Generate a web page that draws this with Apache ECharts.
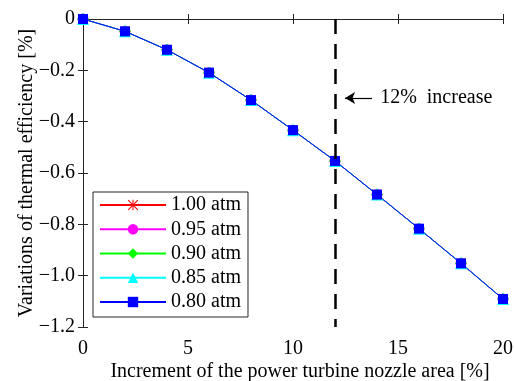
<!DOCTYPE html>
<html>
<head>
<meta charset="utf-8">
<script src="https://cdn.jsdelivr.net/npm/echarts@6/dist/echarts.min.js"></script>
<style>
  html, body { margin: 0; padding: 0; background: #fff; }
  #main { width: 514px; height: 381px; }
</style>
</head>
<body>
<div id="main"></div>
<script>
// nozzle area increment [%]
var areaInc = [0, 2, 4, 6, 8, 10, 12, 14, 16, 18, 20];
// thermal efficiency variation [%] -- all ambient pressures overlap on the plot
var eff100 = [0, -0.048, -0.12, -0.209, -0.316, -0.433, -0.553, -0.684, -0.817, -0.952, -1.091];
var eff095 = [0, -0.048, -0.12, -0.209, -0.316, -0.433, -0.553, -0.684, -0.817, -0.952, -1.091];
var eff090 = [0, -0.048, -0.12, -0.209, -0.316, -0.433, -0.553, -0.684, -0.817, -0.952, -1.091];
var eff085 = [0, -0.048, -0.12, -0.209, -0.316, -0.433, -0.553, -0.684, -0.817, -0.952, -1.091];
var eff080 = [0, -0.048, -0.12, -0.209, -0.316, -0.433, -0.553, -0.684, -0.817, -0.952, -1.091];
var names = ['1.00 atm', '0.95 atm', '0.90 atm', '0.85 atm', '0.80 atm'];
var markX = 12;           // 12% increase
var arrowY = -0.308;
var arrowFrom = 13.76, arrowTo = 12.48, noteX = 14.15;

var FONT = '"Liberation Serif", "Times New Roman", serif';
var AX = '#262626';

// asterisk marker (MATLAB '*')
var asterisk = 'path://M9,0L11,0L11,20L9,20Z M0,9L20,9L20,11L0,11Z M1.4,0L20,18.6L18.6,20L0,1.4Z M18.6,0L20,1.4L1.4,20L0,18.6Z';

function zip(ys) {
    var out = [];
    for (var i = 0; i < areaInc.length; i++) out.push([areaInc[i], ys[i]]);
    return out;
}

function mkSeries(name, ys, color, symbol, size) {
    return {
        name: name,
        type: 'line',
        data: zip(ys),
        symbol: symbol,
        symbolSize: size,
        showAllSymbol: true,
        lineStyle: { color: color, width: 1 },
        itemStyle: { color: color },
        animation: false
    };
}

var series = [
    mkSeries(names[0], eff100, '#ff0000', asterisk, 10),
    mkSeries(names[1], eff095, '#ff00ff', 'circle', 11),
    mkSeries(names[2], eff090, '#00ff00', 'diamond', 12),
    mkSeries(names[3], eff085, '#00ffff', 'triangle', 12),
    mkSeries(names[4], eff080, '#0000ff', 'rect', 10)
];

// dashed marker line + arrow annotation
series.push({
    type: 'line',
    data: [],
    animation: false,
    markLine: {
        silent: true,
        animation: false,
        symbol: ['none', 'none'],
        label: { show: false },
        data: [
            [{ coord: [markX, 0], lineStyle: { color: '#000', width: 2.5, type: [15, 10] } },
             { coord: [markX, -1.2] }],
            [{ coord: [arrowFrom, arrowY], symbol: 'none', lineStyle: { color: '#000', width: 1.2, type: 'solid' } },
             { coord: [arrowTo, arrowY], symbol: 'arrow', symbolSize: [9, 10] }]
        ]
    },
    markPoint: {
        silent: true,
        animation: false,
        symbol: 'circle',
        symbolSize: 0,
        data: [{
            coord: [noteX, arrowY],
            label: {
                show: true, position: 'right', distance: 0,
                formatter: '12%  increase',
                color: '#000', fontFamily: FONT, fontSize: 20
            }
        }]
    }
});

var chart = echarts.init(document.getElementById('main'));
chart.setOption({
    backgroundColor: '#fff',
    animation: false,
    grid: { left: 83, right: 11, top: 19, bottom: 54, containLabel: false, outerBoundsMode: 'none' },
    legend: {
        data: names,
        orient: 'vertical',
        left: 93,
        top: 192,
        padding: [3, 7, 5, 6],
        itemWidth: 66,
        itemHeight: 13,
        itemGap: 4.25,
        borderColor: AX,
        borderWidth: 1,
        backgroundColor: '#fff',
        textStyle: { fontFamily: FONT, fontSize: 20, lineHeight: 20, color: '#000' }
    },
    xAxis: [{
        type: 'value', min: 0, max: 20, interval: 5,
        name: 'Increment of the power turbine nozzle area [%]',
        nameLocation: 'middle', nameGap: 35, nameMoveOverlap: false,
        nameTextStyle: { fontFamily: FONT, fontSize: 20, color: '#000', padding: [0, 0, 0, 14] },
        axisLine: { show: true, lineStyle: { color: AX } },
        axisTick: { show: true, inside: true, length: 5, lineStyle: { color: AX } },
        axisLabel: { fontFamily: FONT, fontSize: 20, color: '#000', margin: 12 },
        splitLine: { show: false }
    }, {
        type: 'value', min: 0, max: 20, interval: 5, position: 'top',
        axisLine: { show: true, lineStyle: { color: AX } },
        axisTick: { show: true, inside: true, length: 5, lineStyle: { color: AX } },
        axisLabel: { show: false },
        splitLine: { show: false }
    }],
    yAxis: [{
        type: 'value', min: -1.2, max: 0, interval: 0.2,
        name: 'Variations of thermal efficiency [%]',
        nameLocation: 'middle', nameGap: 46, nameMoveOverlap: false,
        nameTextStyle: { fontFamily: FONT, fontSize: 20, color: '#000' },
        axisLine: { show: true, lineStyle: { color: AX } },
        axisTick: { show: true, inside: true, length: 5, lineStyle: { color: AX } },
        axisLabel: {
            fontFamily: FONT, fontSize: 20, color: '#000', margin: 8,
            formatter: function (v) {
                if (Math.abs(v) < 1e-9) return '0';
                return '\u2212' + Math.abs(v).toFixed(1);
            }
        },
        splitLine: { show: false }
    }, {
        type: 'value', min: -1.2, max: 0, interval: 0.2, position: 'right',
        axisLine: { show: true, lineStyle: { color: AX } },
        axisTick: { show: true, inside: true, length: 5, lineStyle: { color: AX } },
        axisLabel: { show: false },
        splitLine: { show: false }
    }],
    series: series
});
</script>
</body>
</html>
